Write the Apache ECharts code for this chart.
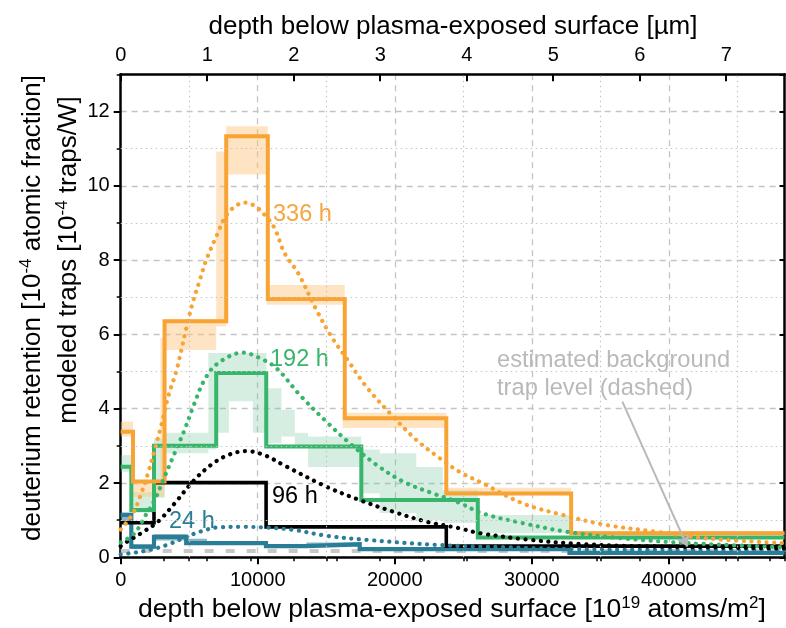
<!DOCTYPE html>
<html><head><meta charset="utf-8">
<script src="https://cdn.jsdelivr.net/npm/echarts@6/dist/echarts.min.js"></script>
<style>html,body{margin:0;padding:0;background:#fff}#c{width:786px;height:628px}</style>
</head><body><div id="c"></div>
<script>
const FONT = '"Liberation Sans", Arial, sans-serif';
const xMax = 48440;      // 10^19 atoms/m^2
const umMax = 7.674;     // µm
const yMax = 13;

const minorXGrid = [5000, 15000, 25000, 35000, 45000];
const minorYGrid = [1, 3, 5, 7, 9, 11];

// measured step profiles (bin edges, levels)
const orangeEdges = [0, 896, 3200, 7700, 10735, 16350, 23760, 32870];
const orangeLevels = [3.38, 2.04, 6.35, 11.33, 6.95, 3.74, 1.72, 0.65];
const greenEdges = [0, 775, 2430, 6970, 10620, 17560, 26060];
const greenLevels = [2.44, 1.27, 3.0, 4.96, 2.98, 1.54, 0.53];
const blackEdges = [0, 2430, 10610, 23760];
const blackLevels = [0.93, 2.01, 0.82, 0.30];
const tealEdges = [0, 775, 2430, 4780, 10600, 13550, 17440, 32750];
const tealLevels = [1.14, 0.29, 0.55, 0.38, 0.30, 0.35, 0.22, 0.12];

// uncertainty bands [x0, x1, low, high]
const orangeBand = [
  [0, 896, 3.25, 3.65], [896, 2900, 1.63, 2.04], [2900, 3200, 1.63, 5.9],
  [3200, 6970, 5.58, 6.4], [6970, 7700, 6.21, 10.92], [7700, 10735, 10.3, 11.6],
  [10640, 16350, 6.8, 7.33], [16200, 23760, 3.48, 3.89], [23760, 32870, 1.68, 1.87],
  [32870, 48440, 0.6, 0.7]
];
const greenBand = [
  [0, 775, 2.3, 2.75], [775, 2430, 1.2, 1.75], [2430, 3200, 1.6, 3.2],
  [3200, 6400, 2.8, 3.35], [6400, 6970, 2.9, 5.5], [6970, 7900, 3.35, 5.5],
  [7900, 9650, 4.2, 5.5], [9650, 10640, 3.35, 5.5], [10640, 11730, 3.07, 4.55],
  [11730, 12700, 3.25, 3.97], [12700, 13670, 2.98, 3.35], [13670, 17560, 2.43, 3.25],
  [17560, 18900, 1.72, 2.9], [18900, 21570, 1.19, 2.8], [21570, 23500, 1.0, 2.43],
  [23500, 26060, 0.92, 1.81], [26060, 32870, 0.65, 1.14]
];
const tealBand = [
  [0, 775, 0.95, 1.2], [775, 2430, 0.22, 0.35], [2430, 4780, 0.45, 0.62],
  [4780, 6300, 0.35, 0.5], [6300, 10600, 0.33, 0.42], [10600, 13550, 0.25, 0.33],
  [13550, 17440, 0.3, 0.4], [17440, 32750, 0.18, 0.26], [32750, 48440, 0.08, 0.15]
];

// modeled trap profiles (dotted)
const orangeModelX = [0, 896, 1500, 1990, 2477, 2960, 3447, 4080, 4810, 5290, 5780, 6240, 7090, 7580, 8185, 9035, 9765, 10495, 11225, 11950, 12945, 14280, 15375, 16470, 17930, 19870, 21570, 23270, 24730, 26430, 29340, 32260, 35420, 39060, 42710, 48440];
const orangeModelY = [0.75, 1.18, 1.72, 2.26, 2.89, 3.55, 4.3, 5.04, 6.2, 6.9, 7.47, 8.0, 8.73, 9.13, 9.4, 9.55, 9.46, 9.22, 8.86, 8.19, 7.65, 6.66, 5.94, 5.36, 4.59, 3.79, 3.16, 2.67, 2.3, 1.99, 1.45, 1.14, 0.87, 0.69, 0.51, 0.38];
const greenModelX = [0, 1020, 1750, 2477, 3205, 3935, 4660, 5390, 6120, 7090, 8910, 10150, 11370, 13070, 15010, 16710, 18660, 20600, 22780, 24500, 26430, 29340, 32500, 36630, 41490, 48440];
const greenModelY = [0.4, 0.65, 1.09, 1.54, 2.17, 2.8, 3.43, 4.15, 4.78, 5.22, 5.51, 5.36, 5.09, 4.37, 3.65, 3.07, 2.49, 2.04, 1.72, 1.5, 1.18, 0.92, 0.69, 0.51, 0.38, 0.27];
const blackModelX = [0, 290, 1500, 2720, 3935, 5270, 6600, 7820, 9150, 10495, 11950, 15010, 17440, 19870, 22300, 24730, 26190, 29590, 33470, 37840, 48440];
const blackModelY = [0.3, 0.38, 0.65, 0.96, 1.45, 2.04, 2.49, 2.75, 2.86, 2.75, 2.47, 1.9, 1.54, 1.23, 0.96, 0.78, 0.65, 0.48, 0.36, 0.30, 0.24];
const tealModelX = [0, 920, 2135, 3350, 4560, 5780, 7240, 8935, 10640, 12580, 15010, 17930, 23270, 28130, 32980, 40270, 48440];
const tealModelY = [0.08, 0.12, 0.2, 0.33, 0.51, 0.69, 0.81, 0.82, 0.8, 0.74, 0.58, 0.47, 0.33, 0.27, 0.22, 0.2, 0.19];

const backgroundLevel = 0.17;
const arrowFrom = [36610, 4.19];
const arrowTo = [41345, 0.29];

const C = {
  orange: '#f8a333', green: '#37b56b', black: '#000000', teal: '#2a7d96',
  orangeBand: 'rgba(252,196,120,0.45)', greenBand: 'rgba(120,200,155,0.30)', tealBand: 'rgba(43,123,148,0.55)',
  grid: '#c4c4c4', gray: '#b9b9b9'
};

function stepData(edges, levels) {
  const d = edges.map((e, i) => [e, levels[i]]);
  d.push([xMax, levels[levels.length - 1]]);
  return d;
}
function zip(xs, ys) { return xs.map((x, i) => [x, ys[i]]); }

function bandSeries(data, color) {
  return {
    type: 'custom', xAxisIndex: 0, yAxisIndex: 0, z: 1, silent: true,
    data: data, encode: { x: [0, 1], y: [2, 3] },
    renderItem: function (params, api) {
      const p0 = api.coord([api.value(0), api.value(3)]);
      const p1 = api.coord([api.value(1), api.value(2)]);
      return { type: 'rect', shape: { x: p0[0], y: p0[1], width: p1[0] - p0[0], height: p1[1] - p0[1] }, style: { fill: color } };
    }
  };
}
function stepSeries(edges, levels, color, width) {
  return { type: 'line', step: 'end', data: stepData(edges, levels), symbol: 'none', z: 3, silent: true,
    lineStyle: { color: color, width: width, join: 'miter' } };
}
function dotSeries(xs, ys, color, gap) {
  return { type: 'line', smooth: 0.35, data: zip(xs, ys), symbol: 'none', z: 4, silent: true,
    lineStyle: { color: color, width: 4.2, type: [0.1, gap], cap: 'round' } };
}

const axisLineStyle = { color: '#000', width: 2.5 };
const labelStyle = { fontFamily: FONT, fontSize: 20, color: '#000', formatter: v => String(v) };

const option = {
  animation: false,
  backgroundColor: '#fff',
  grid: { left: 120.7, right: 1.5, top: 74.3, bottom: 70.7, containLabel: false },
  xAxis: [
    { type: 'value', position: 'bottom', min: 0, max: xMax, interval: 10000,
      axisLine: { show: true, onZero: false, lineStyle: axisLineStyle },
      axisTick: { show: true, inside: false, length: 7, lineStyle: { color: '#000', width: 2 } },
      axisLabel: Object.assign({ margin: 13, showMaxLabel: false }, labelStyle),
      splitLine: { show: true, lineStyle: { color: C.grid, width: 1.3, type: [6, 5] } } },
    { type: 'value', position: 'top', min: 0, max: umMax, interval: 1,
      axisLine: { show: true, onZero: false, lineStyle: axisLineStyle },
      axisTick: { show: true, inside: true, length: 7, lineStyle: { color: '#000', width: 2 } },
      axisLabel: Object.assign({ margin: 9, showMaxLabel: false }, labelStyle),
      splitLine: { show: false } },
    { type: 'value', position: 'bottom', min: 0, max: xMax, interval: 5000,
      axisLine: { show: false }, axisLabel: { show: false }, splitLine: { show: false },
      axisTick: { show: true, inside: false, length: 4, lineStyle: { color: '#000', width: 1.5 } } },
    { type: 'value', position: 'top', min: 0, max: umMax, interval: 0.5,
      axisLine: { show: false }, axisLabel: { show: false }, splitLine: { show: false },
      axisTick: { show: true, inside: true, length: 4, lineStyle: { color: '#000', width: 1.5 } } }
  ],
  yAxis: [
    { type: 'value', position: 'left', min: 0, max: yMax, interval: 2,
      axisLine: { show: true, onZero: false, lineStyle: axisLineStyle },
      axisTick: { show: true, inside: false, length: 7, lineStyle: { color: '#000', width: 2 } },
      axisLabel: Object.assign({ margin: 11, showMaxLabel: false }, labelStyle),
      splitLine: { show: true, lineStyle: { color: C.grid, width: 1.3, type: [6, 5] } } },
    { type: 'value', position: 'left', min: 0, max: yMax, interval: 1,
      axisLine: { show: false }, axisLabel: { show: false }, splitLine: { show: false },
      axisTick: { show: true, inside: false, length: 4, lineStyle: { color: '#000', width: 1.5 } } },
    { type: 'value', position: 'right', min: 0, max: yMax, interval: 2,
      axisLine: { show: true, onZero: false, lineStyle: axisLineStyle },
      axisTick: { show: true, inside: true, length: 5, lineStyle: { color: '#000', width: 2 } },
      axisLabel: { show: false }, splitLine: { show: false } }
  ],
  series: [
    { type: 'line', data: [], z: 0, silent: true,
      markLine: { silent: true, symbol: 'none', label: { show: false },
        lineStyle: { color: C.grid, width: 1.2, type: [1.5, 3.5] },
        data: minorXGrid.map(v => ({ xAxis: v })).concat(minorYGrid.map(v => ({ yAxis: v }))) } },
    bandSeries(greenBand, C.greenBand),
    bandSeries(orangeBand, C.orangeBand),
    bandSeries(tealBand, C.tealBand),
    { type: 'line', data: [[0, backgroundLevel], [xMax, backgroundLevel]], symbol: 'none', z: 2, silent: true,
      lineStyle: { color: '#c8c8c8', width: 4, type: [9, 12] } },
    stepSeries(tealEdges, tealLevels, C.teal, 4.2),
    stepSeries(blackEdges, blackLevels, C.black, 3.6),
    stepSeries(greenEdges, greenLevels, C.green, 4),
    stepSeries(orangeEdges, orangeLevels, C.orange, 4),
    dotSeries(tealModelX, tealModelY, C.teal, 7.5),
    dotSeries(blackModelX, blackModelY, C.black, 7.5),
    dotSeries(greenModelX, greenModelY, C.green, 7.5),
    dotSeries(orangeModelX, orangeModelY, C.orange, 7.5),
    { type: 'lines', coordinateSystem: 'cartesian2d', z: 5, silent: true,
      symbol: ['none', 'arrow'], symbolSize: 11,
      lineStyle: { color: C.gray, width: 2, opacity: 1 },
      data: [{ coords: [arrowFrom, arrowTo] }] }
  ],
  graphic: [
    { type: 'text', x: 453, y: 27, style: { text: 'depth below plasma-exposed surface [µm]', font: '26px ' + FONT, fill: '#000', align: 'center', verticalAlign: 'middle' } },
    { type: 'text', x: 452, y: 610, style: { text: '{t|depth below plasma-exposed surface [10}{s|19}{t| atoms/m}{s|2}{t|]}', align: 'center', verticalAlign: 'middle',
      rich: { t: { fontSize: 26.5, fontFamily: FONT, fill: '#000', lineHeight: 30 }, s: { fontSize: 17, fontFamily: FONT, fill: '#000', lineHeight: 17, verticalAlign: 'top' } } } },
    { type: 'text', x: 33, y: 308, rotation: Math.PI / 2, style: { text: '{t|deuterium retention [10}{s|-4}{t| atomic fraction]}', align: 'center', verticalAlign: 'middle',
      rich: { t: { fontSize: 26, fontFamily: FONT, fill: '#000', lineHeight: 30 }, s: { fontSize: 17, fontFamily: FONT, fill: '#000', lineHeight: 17, verticalAlign: 'top' } } } },
    { type: 'text', x: 69, y: 260, rotation: Math.PI / 2, style: { text: '{t|modeled traps [10}{s|-4}{t| traps/W]}', align: 'center', verticalAlign: 'middle',
      rich: { t: { fontSize: 26, fontFamily: FONT, fill: '#000', lineHeight: 30 }, s: { fontSize: 17, fontFamily: FONT, fill: '#000', lineHeight: 17, verticalAlign: 'top' } } } },
    { type: 'text', x: 273, y: 215, style: { text: '336 h', font: '23.5px ' + FONT, fill: '#f7a541', align: 'left', verticalAlign: 'middle' } },
    { type: 'text', x: 270, y: 360, style: { text: '192 h', font: '23.5px ' + FONT, fill: C.green, align: 'left', verticalAlign: 'middle' } },
    { type: 'text', x: 272, y: 497, style: { text: '96 h', font: '23.5px ' + FONT, fill: '#000', align: 'left', verticalAlign: 'middle' } },
    { type: 'text', x: 169, y: 522, style: { text: '24 h', font: '23.5px ' + FONT, fill: C.teal, align: 'left', verticalAlign: 'middle' } },
    { type: 'text', x: 497, y: 360, style: { text: 'estimated background', font: '23.7px ' + FONT, fill: C.gray, align: 'left', verticalAlign: 'middle' } },
    { type: 'text', x: 497, y: 388, style: { text: 'trap level (dashed)', font: '23.7px ' + FONT, fill: C.gray, align: 'left', verticalAlign: 'middle' } }
  ]
};

const chart = echarts.init(document.getElementById('c'), null, { renderer: 'canvas' });
chart.setOption(option);
</script>
</body></html>
